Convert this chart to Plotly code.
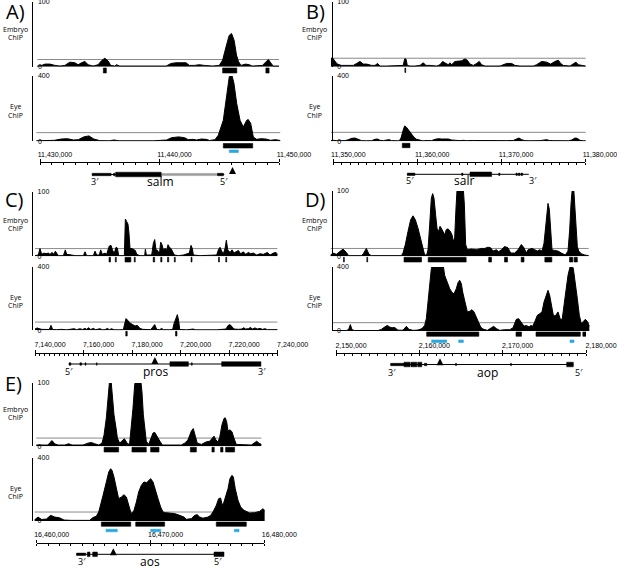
import plotly.graph_objects as go

W, H = 617, 566

# ---------------- data ----------------
# locus axis ends (bp); every position below is in kb from the left end of its locus axis
A_locus = [11430000, 11450000]
B_locus = [11350000, 11380000]
C_locus = [7140000, 7240000]
D_locus = [2150000, 2180000]
E_locus = [16460000, 16480000]

# peak-calling cut-offs (embryo, eye)
A_cut = [11, 53]
B_cut = [13, 55]
C_cut = [12, 52]
D_cut = [12, 52]
E_cut = [13, 57]

A_embryo = [(-0.22, 1), (0.14, 2), (0.42, 4), (0.83, 4), (1.25, 2), (1.67, 1), (2.08, 2), (2.5, 7), (2.92, 6),
            (3.19, 3), (3.47, 6), (3.75, 8), (4.03, 3), (4.44, 1), (4.86, 3), (5.14, 9), (5.42, 13), (5.69, 9),
            (5.92, 2), (6.25, 1), (6.39, 3), (6.67, 1), (7.78, 1), (10.56, 1), (10.97, 5), (11.39, 6), (12.22, 6),
            (12.5, 2), (12.92, 2), (13.33, 3), (13.75, 2), (14.44, 1), (15.0, 2), (15.28, 10), (15.56, 30),
            (15.83, 48), (16.03, 51), (16.25, 40), (16.44, 18), (16.61, 8), (16.81, 2), (17.22, 4), (17.5, 3),
            (17.78, 1), (18.61, 2), (18.89, 8), (19.11, 11), (19.31, 6), (19.5, 1), (20.0, 1)]
A_eye = [(-0.3, 3), (0.5, 4), (1.2, 6), (1.8, 14), (2.3, 16), (2.8, 8), (3.2, 10), (3.7, 28), (4.1, 33), (4.5, 14),
         (5.0, 4), (5.8, 3), (6.2, 8), (6.6, 3), (8.0, 2), (9.5, 3), (10.6, 8), (11.0, 22), (11.6, 27), (12.1, 22),
         (12.4, 10), (12.8, 12), (13.1, 8), (13.5, 14), (13.9, 12), (14.2, 5), (14.64, 10), (14.92, 37),
         (15.34, 129), (15.62, 273), (15.84, 396), (16.04, 410), (16.23, 355), (16.46, 232), (16.74, 129),
         (17.01, 88), (17.3, 129), (17.43, 133), (17.63, 110), (17.85, 26), (18.13, 12), (18.5, 16), (18.9, 14),
         (19.3, 6), (19.7, 10), (20.1, 5)]
A_embryo_peaks = [(5.3, 5.55), (15.28, 16.47), (18.9, 19.17)]
A_eye_peaks = [(15.34, 17.8)]
A_eye_blue = [(15.84, 16.6)]
A_arrow = [16.11]
A_gene_span = [4.36, 15.42]
A_exons_big = [(6.33, 10.14)]
A_exons_small = [(4.36, 5.95), (6.15, 6.28), (14.86, 15.35)]
A_exons_grey = [(10.14, 14.86)]

B_embryo = [(-0.28, 12), (-0.12, 14), (0.12, 10), (0.4, 5), (0.79, 2), (1.19, 2), (1.79, 3), (2.38, 2), (2.78, 5),
            (3.18, 8), (3.58, 4), (3.97, 4), (4.57, 2), (4.97, 2), (5.28, 5), (5.56, 1), (6.36, 1), (7.95, 1),
            (8.34, 2), (8.5, 12), (8.66, 12), (8.82, 2), (9.14, 1), (9.73, 1), (10.33, 2), (10.73, 6), (11.04, 2),
            (11.52, 2), (11.92, 1), (12.32, 1), (12.71, 3), (13.03, 8), (13.43, 5), (13.71, 3), (13.91, 6),
            (14.1, 3), (14.5, 8), (14.9, 9), (15.3, 9), (15.69, 12), (15.97, 10), (16.29, 4), (16.69, 2),
            (17.08, 5), (17.4, 8), (17.68, 3), (18.08, 1), (19.87, 1), (20.26, 3), (20.66, 5), (21.26, 5),
            (21.65, 2), (22.25, 1), (23.84, 1), (24.23, 3), (24.83, 8), (25.43, 7), (25.9, 4), (26.42, 8),
            (26.82, 10), (27.1, 5), (27.41, 2), (28.21, 1), (28.61, 4), (28.92, 7), (29.2, 3), (29.8, 1), (30.08, 1)]
B_eye = [(-0.28, 4), (0, 6), (0.4, 4), (0.79, 5), (1.39, 4), (1.79, 10), (2.19, 18), (2.58, 20), (2.98, 12),
         (3.38, 4), (3.97, 3), (4.57, 4), (4.97, 12), (5.28, 14), (5.56, 6), (5.96, 4), (6.36, 8), (6.67, 10),
         (6.95, 4), (7.35, 6), (7.67, 3), (7.87, 4), (8.07, 20), (8.34, 70), (8.5, 94), (8.74, 85), (9.02, 65),
         (9.34, 40), (9.61, 25), (9.93, 12), (10.25, 6), (10.65, 3), (11.32, 5), (11.72, 4), (12.12, 12),
         (12.52, 16), (12.91, 14), (13.31, 16), (13.71, 14), (14.1, 8), (14.5, 5), (15.1, 4), (15.49, 6),
         (15.89, 4), (16.69, 5), (17.48, 4), (18.28, 3), (19.07, 3), (19.87, 4), (20.66, 4), (21.45, 5),
         (21.85, 12), (22.13, 20), (22.45, 10), (22.84, 4), (23.44, 3), (24.04, 4), (24.63, 4), (25.43, 10),
         (25.74, 5), (26.22, 4), (27.02, 4), (27.61, 6), (28.01, 3), (28.41, 8), (28.8, 20), (29.08, 18),
         (29.4, 6), (29.8, 3), (30.08, 3)]
B_embryo_peaks = [(8.53, 8.63)]
B_eye_peaks = [(8.22, 9.14)]
B_eye_blue = []
B_arrow = []
B_gene_span = [8.82, 23.3]
B_exons_big = [(16.29, 18.87)]
B_exons_small = [(8.82, 9.73), (15.3, 15.45), (19.72, 19.86), (21.77, 21.93), (22.05, 22.25), (22.37, 22.57)]
B_exons_grey = []

C_embryo = [(0, 1), (1.37, 2), (2.06, 12), (2.75, 3), (3.71, 5), (4.53, 4), (5.49, 5), (6.18, 3), (7.0, 6),
            (7.83, 3), (8.38, 8), (8.93, 4), (9.62, 1), (11.68, 1), (12.5, 10), (13.05, 3), (14.15, 3), (15.11, 2),
            (16.48, 1), (19.92, 1), (20.6, 7), (21.29, 1), (24.04, 1), (24.73, 8), (25.41, 2), (26.51, 2),
            (27.06, 10), (27.75, 3), (28.85, 5), (29.53, 3), (30.08, 10), (30.63, 16), (31.32, 17), (32.0, 9),
            (32.69, 5), (33.38, 14), (33.93, 13), (34.48, 1), (36.81, 1), (37.23, 58), (37.77, 54), (38.32, 50),
            (38.74, 35), (39.15, 12), (39.97, 12), (40.66, 10), (41.35, 9), (41.9, 3), (43.27, 1), (45.19, 1),
            (45.47, 11), (45.88, 2), (48.08, 2), (48.76, 20), (49.31, 26), (49.86, 10), (50.55, 9), (51.24, 3),
            (51.79, 22), (52.34, 18), (52.88, 10), (53.57, 12), (54.26, 10), (54.81, 18), (55.36, 14), (56.04, 12),
            (56.73, 6), (57.42, 2), (59.07, 1), (61.13, 2), (63.6, 5), (64.29, 17), (64.84, 12), (65.25, 2),
            (68.0, 1), (72.12, 1), (74.86, 2), (75.55, 10), (76.24, 14), (76.92, 8), (77.61, 4), (78.3, 12),
            (78.85, 25), (79.4, 10), (80.36, 6), (81.18, 10), (82.01, 5), (82.83, 7), (83.79, 9), (84.75, 4),
            (85.85, 7), (86.81, 3), (87.91, 6), (88.87, 4), (89.97, 5), (91.35, 2), (92.72, 4), (94.09, 3),
            (95.74, 6), (96.84, 2), (98.21, 5), (99.31, 6), (99.86, 3)]
C_eye = [(0, 8), (0.96, 15), (2.06, 6), (4.12, 4), (5.91, 5), (6.59, 31), (7.28, 5), (8.93, 4), (10.99, 6),
         (13.05, 3), (15.11, 5), (16.07, 10), (17.17, 4), (18.54, 10), (19.51, 5), (20.6, 12), (21.29, 6),
         (22.12, 16), (22.94, 5), (24.04, 12), (25.0, 4), (26.79, 10), (27.75, 3), (28.85, 4), (29.81, 12),
         (30.63, 4), (31.59, 10), (32.55, 3), (34.34, 3), (36.4, 4), (37.09, 50), (37.5, 74), (38.19, 63),
         (39.15, 46), (40.25, 36), (41.21, 27), (42.17, 31), (43.27, 12), (44.37, 6), (46.02, 5), (47.66, 4),
         (48.49, 20), (49.31, 36), (50.14, 6), (51.24, 3), (52.2, 12), (52.88, 4), (55.63, 3), (56.73, 6),
         (57.28, 42), (57.97, 74), (58.65, 99), (59.2, 60), (59.62, 5), (62.5, 3), (65.25, 8), (65.93, 3),
         (70.74, 3), (74.86, 3), (78.71, 8), (79.53, 30), (80.36, 36), (81.18, 20), (82.01, 8), (83.79, 6),
         (85.16, 8), (85.99, 16), (86.81, 8), (87.91, 10), (88.74, 18), (89.56, 8), (90.66, 15), (91.62, 8),
         (92.72, 12), (93.68, 6), (94.78, 10), (95.74, 4), (97.53, 3), (99.86, 4)]
C_embryo_peaks = [(30.5, 31.1), (33.1, 33.5), (37.1, 39.5), (40.9, 41.3), (48.7, 49.3), (51.8, 52.3), (54.6, 55.1),
                  (57.4, 57.8), (64.3, 64.7), (75.6, 76.0), (78.6, 79.0)]
C_eye_peaks = [(37.4, 38.0), (57.9, 58.5)]
C_eye_blue = []
C_arrow = [49.4]
C_gene_span = [14.0, 93.1]
C_exons_big = [(55.6, 63.2), (76.9, 93.1)]
C_exons_small = [(14.0, 14.8), (18.5, 19.2), (20.6, 21.0), (25.3, 25.6), (64.4, 64.8)]
C_exons_grey = []

D_embryo = [(-0.64, 2), (-0.36, 5), (0.04, 3), (0.44, 7), (0.84, 11), (1.24, 6), (1.52, 1), (3.04, 1), (3.28, 4),
            (3.64, 12), (3.96, 3), (4.24, 1), (7.84, 1), (8.04, 5), (8.32, 18), (8.64, 38), (8.96, 56), (9.24, 62),
            (9.52, 56), (9.84, 43), (10.24, 23), (10.44, 10), (10.64, 2), (10.88, 2), (11.04, 10), (11.24, 48),
            (11.44, 89), (11.6, 96), (11.76, 89), (11.96, 63), (12.12, 43), (12.32, 38), (12.48, 46), (12.64, 43),
            (12.84, 38), (13.04, 33), (13.24, 41), (13.44, 42), (13.68, 39), (13.92, 33), (14.08, 23), (14.24, 28),
            (14.4, 74), (14.56, 110), (14.84, 115), (15.24, 110), (15.4, 80), (15.56, 18), (15.76, 10),
            (16.24, 11), (16.84, 10), (17.44, 12), (17.84, 12), (18.24, 14), (18.56, 13), (18.84, 8), (19.24, 10),
            (19.52, 7), (19.84, 10), (20.24, 15), (20.64, 13), (20.96, 5), (21.44, 5), (21.84, 10), (22.24, 18),
            (22.56, 13), (22.84, 5), (23.04, 10), (23.52, 12), (23.84, 10), (24.16, 8), (24.44, 10), (24.72, 8),
            (24.96, 20), (25.16, 45), (25.32, 68), (25.44, 81), (25.6, 72), (25.76, 38), (25.92, 10), (26.24, 9),
            (26.64, 8), (27.04, 5), (27.52, 2), (27.84, 8), (28.04, 40), (28.2, 80), (28.36, 105), (28.52, 105),
            (28.68, 70), (28.84, 40), (28.96, 15), (29.12, 8), (29.44, 4), (29.84, 2), (30.32, 1)]
D_eye = [(-0.36, 3), (1.24, 3), (1.52, 10), (1.72, 40), (1.92, 8), (2.24, 3), (5.04, 3), (5.44, 10), (5.84, 25),
         (6.16, 35), (6.44, 25), (6.72, 20), (7.04, 22), (7.44, 5), (8.04, 5), (8.44, 29), (8.76, 10), (9.24, 4),
         (9.84, 6), (10.32, 15), (10.64, 35), (10.84, 77), (11.04, 181), (11.24, 306), (11.44, 390), (11.6, 420),
         (12.84, 420), (13.04, 348), (13.36, 296), (13.64, 265), (13.92, 240), (14.16, 233), (14.44, 265),
         (14.64, 302), (14.84, 317), (15.04, 296), (15.2, 244), (15.44, 181), (15.76, 119), (16.04, 123),
         (16.32, 133), (16.56, 119), (16.84, 87), (17.12, 46), (17.36, 25), (17.64, 12), (18.16, 4), (18.64, 20),
         (18.92, 29), (19.24, 15), (19.64, 4), (20.24, 8), (20.84, 8), (21.24, 20), (21.64, 73), (21.92, 77),
         (22.24, 56), (22.56, 30), (22.84, 35), (23.16, 25), (23.36, 35), (23.6, 30), (23.84, 56), (24.16, 98),
         (24.44, 108), (24.72, 119), (24.96, 181), (25.24, 233), (25.44, 254), (25.64, 223), (25.84, 160),
         (26.08, 98), (26.32, 94), (26.64, 119), (26.96, 67), (27.16, 80), (27.36, 160), (27.6, 265),
         (27.84, 348), (28.08, 400), (28.28, 415), (28.48, 390), (28.72, 306), (28.96, 202), (29.2, 98),
         (29.44, 46), (29.68, 60), (29.92, 73), (30.16, 60), (30.4, 30)]
D_embryo_peaks = [(0.9, 1.0), (3.7, 3.8), (8.16, 10.26), (11.06, 15.62), (18.32, 18.66), (20.22, 20.58),
                  (22.22, 22.56), (25.06, 25.9), (28.02, 28.42), (28.58, 28.96)]
D_eye_peaks = [(10.88, 17.14), (21.6, 22.26), (24.0, 29.32), (29.62, 30.14)]
D_eye_blue = [(11.48, 13.28), (14.72, 15.28), (28.08, 28.56)]
D_arrow = [12.48]
D_gene_span = [6.56, 28.48]
D_exons_big = [(8.16, 8.9), (9.0, 9.7), (9.8, 10.3), (27.68, 28.48)]
D_exons_small = [(6.56, 8.16), (10.6, 10.9), (14.35, 14.45), (20.95, 21.05)]
D_exons_grey = []

E_embryo = [(-0.03, 2), (1.0, 2), (1.17, 6), (1.35, 9), (1.58, 4), (1.87, 2), (2.46, 2), (2.81, 4), (3.1, 2),
            (4.07, 2), (4.51, 5), (4.8, 6), (5.1, 4), (5.45, 2), (5.74, 5), (5.92, 18), (6.12, 45), (6.27, 81),
            (6.41, 105), (6.53, 105), (6.65, 81), (6.79, 50), (6.97, 29), (7.09, 13), (7.29, 5), (7.5, 8),
            (7.7, 12), (7.88, 7), (8.02, 3), (8.17, 5), (8.32, 29), (8.46, 60), (8.61, 97), (8.7, 105), (9.14, 105),
            (9.25, 86), (9.37, 50), (9.49, 24), (9.63, 8), (9.84, 3), (10.01, 10), (10.22, 21), (10.37, 22),
            (10.6, 16), (10.83, 8), (11.04, 2), (12.71, 2), (13.0, 5), (13.29, 10), (13.59, 24), (13.76, 28),
            (13.94, 16), (14.11, 5), (14.47, 3), (14.91, 7), (15.2, 8), (15.4, 13), (15.58, 16), (15.75, 10),
            (15.93, 7), (16.08, 14), (16.28, 34), (16.46, 44), (16.57, 45), (16.69, 39), (16.81, 24), (16.98, 26),
            (17.16, 23), (17.33, 13), (17.54, 3), (18.86, 2), (19.15, 5), (19.33, 8), (19.53, 5), (19.74, 3)]
E_eye = [(-0.18, 8), (0.12, 25), (0.41, 10), (0.85, 12), (1.23, 36), (1.58, 25), (2.02, 20), (2.4, 6), (3.05, 4),
         (4.66, 4), (4.95, 22), (5.24, 30), (5.45, 57), (5.62, 99), (5.83, 163), (6.12, 248), (6.33, 311),
         (6.5, 332), (6.62, 321), (6.79, 279), (7.0, 205), (7.2, 142), (7.44, 152), (7.67, 167), (7.88, 152),
         (8.08, 99), (8.26, 57), (8.37, 47), (8.55, 68), (8.76, 121), (8.96, 184), (9.19, 226), (9.43, 248),
         (9.66, 243), (9.84, 258), (10.01, 269), (10.22, 248), (10.42, 195), (10.66, 142), (10.89, 89),
         (11.1, 57), (11.3, 53), (11.68, 51), (12.12, 47), (12.56, 36), (12.94, 25), (13.15, 11), (13.59, 15),
         (13.88, 36), (14.11, 40), (14.32, 25), (14.61, 18), (15.05, 25), (15.29, 36), (15.49, 57), (15.78, 99),
         (15.99, 142), (16.16, 146), (16.31, 99), (16.46, 121), (16.63, 163), (16.81, 205), (16.98, 269),
         (17.16, 290), (17.28, 279), (17.45, 205), (17.69, 131), (17.92, 89), (18.21, 68), (18.51, 57),
         (18.71, 51), (19.15, 53), (19.59, 61), (19.88, 78), (20.03, 68)]
E_embryo_peaks = [(5.92, 7.2), (8.37, 9.63), (10.01, 10.75), (13.5, 14.03), (15.4, 15.6), (16.16, 16.37),
                  (16.6, 17.39)]
E_eye_peaks = [(5.68, 8.26), (8.7, 11.24), (15.78, 18.42)]
E_eye_blue = [(6.09, 7.08), (10.02, 10.9), (17.37, 17.78)]
E_arrow = [6.73]
E_gene_span = [3.5, 16.46]
E_exons_big = [(4.45, 4.68), (4.92, 5.33), (15.58, 16.46)]
E_exons_small = [(3.5, 4.3)]
E_exons_grey = []

gene_names = {'A': 'salm', 'B': 'salr', 'C': 'pros', 'D': 'aop', 'E': 'aos'}
gene_ends = {'A': ['3′', '5′'], 'B': ['5′', '3′'], 'C': ['5′', '3′'], 'D': ['3′', '5′'], 'E': ['3′', '5′']}
track_labels = [["Embryo", "ChIP"], ["Eye", "ChIP"]]

data = {
    'A': dict(locus=A_locus, cut=A_cut, emb=A_embryo, eye=A_eye, emb_pk=A_embryo_peaks, eye_pk=A_eye_peaks,
              blue=A_eye_blue, arrow=A_arrow, span=A_gene_span, big=A_exons_big, small=A_exons_small, grey=A_exons_grey),
    'B': dict(locus=B_locus, cut=B_cut, emb=B_embryo, eye=B_eye, emb_pk=B_embryo_peaks, eye_pk=B_eye_peaks,
              blue=B_eye_blue, arrow=B_arrow, span=B_gene_span, big=B_exons_big, small=B_exons_small, grey=B_exons_grey),
    'C': dict(locus=C_locus, cut=C_cut, emb=C_embryo, eye=C_eye, emb_pk=C_embryo_peaks, eye_pk=C_eye_peaks,
              blue=C_eye_blue, arrow=C_arrow, span=C_gene_span, big=C_exons_big, small=C_exons_small, grey=C_exons_grey),
    'D': dict(locus=D_locus, cut=D_cut, emb=D_embryo, eye=D_eye, emb_pk=D_embryo_peaks, eye_pk=D_eye_peaks,
              blue=D_eye_blue, arrow=D_arrow, span=D_gene_span, big=D_exons_big, small=D_exons_small, grey=D_exons_grey),
    'E': dict(locus=E_locus, cut=E_cut, emb=E_embryo, eye=E_eye, emb_pk=E_embryo_peaks, eye_pk=E_eye_peaks,
              blue=E_eye_blue, arrow=E_arrow, span=E_gene_span, big=E_exons_big, small=E_exons_small, grey=E_exons_grey),
}

# ---------------- page layout (pixels) ----------------
geo = {
    'A': dict(gx=(40, 279), emb=(1.5, 66.7), eye=(76, 141.3), yax=32.3, lab=15, emb_bar=(68, 73),
              eye_bar=(143.5, 148), blue=(150, 152.5), axis=162.3, arrow=167, gene=174.5, gene_lab=181.5,
              ends=(95, 224), name=160, letter=(15, 11), step=(10000, 1000),
              lab_y=[(29.5, 37.5), (106.5, 115)]),
    'B': dict(gx=(333.3, 585), emb=(1.5, 66.7), eye=(76, 141.3), yax=331.7, lab=314, emb_bar=(68, 72.5),
              eye_bar=(143.3, 147.7), blue=(150, 152.5), axis=162.3, arrow=167, gene=174.3, gene_lab=180.5,
              ends=(410, 532.5), name=463.5, letter=(315, 11), step=(10000, 1000),
              lab_y=[(29.5, 37.5), (106.5, 115)]),
    'C': dict(gx=(35, 277.7), emb=(192, 256.3), eye=(267, 330.3), yax=32, lab=15, emb_bar=(257.3, 262),
              eye_bar=(331.3, 336), blue=(339, 341.5), axis=352.7, arrow=357, gene=364, gene_lab=371.5,
              ends=(68.5, 262), name=155, letter=(14, 199), step=(20000, 2000),
              lab_y=[(220, 228), (297.5, 305.5)]),
    'D': dict(gx=(336, 586), emb=(191, 256.3), eye=(267, 331), yax=331.5, lab=314, emb_bar=(257.3, 262),
              eye_bar=(332, 336.3), blue=(340, 342.5), axis=353.3, arrow=358.3, gene=364.5, gene_lab=372.7,
              ends=(392, 579), name=487.5, letter=(315, 199.5), step=(10000, 1000),
              lab_y=[(220, 228), (297.5, 305.5)]),
    'E': dict(gx=(36.7, 264.3), emb=(383, 446.3), eye=(458, 521), yax=32, lab=15, emb_bar=(447.3, 452),
              eye_bar=(522, 526.3), blue=(529.3, 531.8), axis=542.7, arrow=548.3, gene=554.3, gene_lab=561.5,
              ends=(82, 218), name=150, letter=(13, 383.5), step=(10000, 1000),
              lab_y=[(409.5, 417.5), (488, 496)]),
}

TEXT_FONT = "Open Sans"
NUM_FONT = "Liberation Sans"
BLUE = "#27aae1"
GREY_LINE = "#8a8a8a"


def fx(px):
    return px / W


def fy(py):
    return 1 - py / H


def ax(letter, n):
    return letter if n == 1 else f"{letter}{n}"


def key(letter, n):
    return f"{letter}axis" if n == 1 else f"{letter}axis{n}"


def boxes(intervals, start, y0, y1):
    xs, ys = [], []
    for a, b in intervals:
        xa, xb = start + 1000 * a, start + 1000 * b
        xs += [xa, xb, xb, xa, xa, None]
        ys += [y0, y0, y1, y1, y0, None]
    return xs, ys


fig = go.Figure()
lay = {}
notes = []
ANN_Y = "y11"
lay["yaxis11"] = dict(domain=[0, 1], range=[H, 0], visible=False, anchor="free", position=0,
                      fixedrange=True, automargin=False)

for i, p in enumerate("ABCDE"):
    d, g = data[p], geo[p]
    start, end = d["locus"]
    g0, g1 = g["gx"]
    bpp = (end - start) / (g1 - g0)
    padL, padR = 6, 8
    tn, gn = i + 1, i + 6
    en, yn = 2 * i + 1, 2 * i + 2

    lay[key("x", tn)] = dict(domain=[fx(g0 - padL), fx(g1 + padR)],
                             range=[start - padL * bpp, end + padR * bpp],
                             visible=False, anchor=ax("y", en), fixedrange=True, automargin=False)
    major, minor = g["step"]
    lay[key("x", gn)] = dict(domain=[fx(g0), fx(g1)], range=[start, end], anchor="free",
                             position=fy(g["axis"]), side="top", showline=True, linecolor="black",
                             linewidth=1, ticks="outside", ticklen=3, tickwidth=1, tickcolor="black",
                             tick0=start, dtick=major, tickformat=",d", ticklabelshift=15,
                             ticklabeloverflow="allow",
                             tickfont=dict(size=7, family=NUM_FONT, color="black"),
                             minor=dict(dtick=minor, tick0=start, ticks="inside", ticklen=2,
                                        tickcolor="black", tickwidth=1, showgrid=False),
                             showgrid=False, zeroline=False, fixedrange=True, automargin=False)

    for n, (top, base), vmax in [(en, g["emb"], 100), (yn, g["eye"], 400)]:
        lay[key("y", n)] = dict(domain=[fy(base), fy(top)], range=[0, vmax], anchor="free",
                                position=fx(g["yax"]), showline=True, linecolor="black", linewidth=1,
                                tickvals=[0, vmax], ticks="inside", ticklen=3, tickcolor="black",
                                ticklabelposition="inside", ticklabeloverflow="allow",
                                tickfont=dict(size=7, family=NUM_FONT, color="black"),
                                showgrid=False, zeroline=False, fixedrange=True, automargin=False)

    # signal tracks with cut-off line
    for n, track, cut in [(en, d["emb"], d["cut"][0]), (yn, d["eye"], d["cut"][1])]:
        xs = [start + 1000 * k for k, v in track]
        ys = [v for k, v in track]
        fig.add_trace(go.Scatter(x=[xs[0], xs[-1]], y=[cut, cut], mode="lines",
                                 line=dict(color=GREY_LINE, width=1),
                                 xaxis=ax("x", tn), yaxis=ax("y", n), hoverinfo="skip"))
        fig.add_trace(go.Scatter(x=xs, y=ys, mode="lines", fill="tozeroy", fillcolor="black",
                                 line=dict(color="black", width=1),
                                 xaxis=ax("x", tn), yaxis=ax("y", n), hoverinfo="skip"))

    # called peaks and blue regions
    for ivs, (y0, y1), col in [(d["emb_pk"], g["emb_bar"], "black"), (d["eye_pk"], g["eye_bar"], "black"),
                               (d["blue"], g["blue"], BLUE)]:
        if not ivs:
            continue
        bx, by = boxes(ivs, start, y0, y1)
        fig.add_trace(go.Scatter(x=bx, y=by, mode="lines", fill="toself", fillcolor=col,
                                 line=dict(color=col, width=0.6),
                                 xaxis=ax("x", gn), yaxis=ANN_Y, hoverinfo="skip"))

    # gene model
    gy = g["gene"]
    s0, s1 = d["span"]
    fig.add_trace(go.Scatter(x=[start + 1000 * s0, start + 1000 * s1], y=[gy, gy], mode="lines",
                             line=dict(color="black", width=1),
                             xaxis=ax("x", gn), yaxis=ANN_Y, hoverinfo="skip"))
    for ivs, hh, col in [(d["grey"], 1.1, "#9a9a9a"), (d["small"], 1.2, "black"), (d["big"], 2.3, "black")]:
        if not ivs:
            continue
        bx, by = boxes(ivs, start, gy - hh, gy + hh)
        fig.add_trace(go.Scatter(x=bx, y=by, mode="lines", fill="toself", fillcolor=col,
                                 line=dict(color=col, width=0.5),
                                 xaxis=ax("x", gn), yaxis=ANN_Y, hoverinfo="skip"))
    # position arrowhead
    if d["arrow"]:
        fig.add_trace(go.Scatter(x=[start + 1000 * k for k in d["arrow"]], y=[g["arrow"]] * len(d["arrow"]),
                                 mode="markers", marker=dict(symbol="arrow-up", size=7, color="black"),
                                 xaxis=ax("x", gn), yaxis=ANN_Y, hoverinfo="skip"))

    # texts
    lx, ly = g["letter"]
    notes.append(dict(x=fx(lx), y=fy(ly), text=f"{p})", font=dict(size=20, family=TEXT_FONT, color="black")))
    for words, ys in zip(track_labels, g["lab_y"]):
        for word, wy in zip(words, ys):
            notes.append(dict(x=fx(g["lab"]), y=fy(wy), text=word,
                              font=dict(size=7, family=TEXT_FONT, color="black")))
    e0, e1 = g["ends"]
    for ex, lab in zip((e0, e1), gene_ends[p]):
        notes.append(dict(x=fx(ex), y=fy(g["gene_lab"]), text=lab,
                          font=dict(size=9, family=TEXT_FONT, color="black")))
    notes.append(dict(x=fx(g["name"]), y=fy(g["gene_lab"]), text=gene_names[p],
                      font=dict(size=12, family=TEXT_FONT, color="black")))

for n in notes:
    n.update(xref="paper", yref="paper", showarrow=False, xanchor="center", yanchor="middle")

fig.update_layout(**lay)
fig.update_layout(width=W, height=H, margin=dict(l=0, r=0, t=0, b=0, autoexpand=False),
                  paper_bgcolor="white", plot_bgcolor="rgba(0,0,0,0)", showlegend=False,
                  hovermode=False, annotations=notes)

fig.write_html("out.html", config={"displayModeBar": False},
               post_script="document.body.style.margin='0px';")
